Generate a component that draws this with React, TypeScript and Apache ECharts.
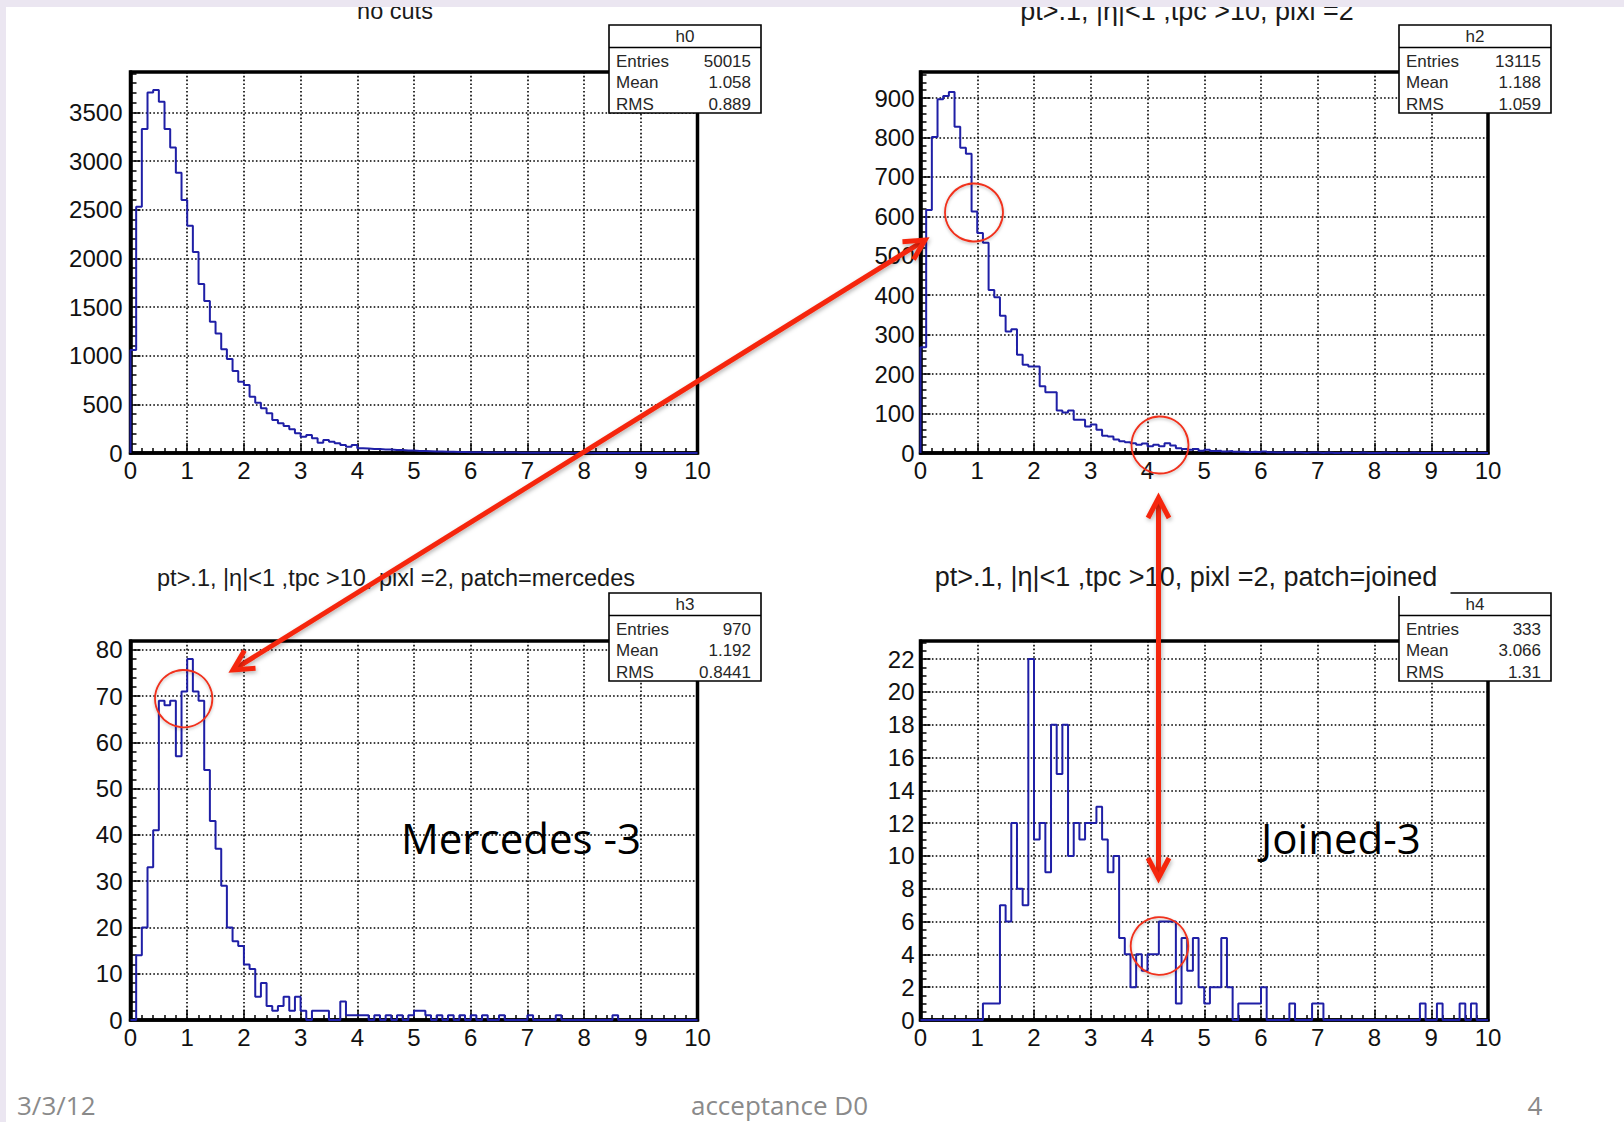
import React, { useEffect, useRef } from 'react';
import * as echarts from 'echarts';

// ---------- data (100 bins of width 0.1 between 0 and 10) ----------
const binWidth = 0.1;
const xTickLabels = ['0', '1', '2', '3', '4', '5', '6', '7', '8', '9', '10'];

const h0Counts = [
  1058, 2531, 3329, 3705, 3730, 3610, 3329, 3140, 2880, 2600,
  2336, 2065, 1736, 1562, 1349, 1229, 1065, 966, 842, 733,
  699, 579, 517, 459, 408, 339, 305, 277, 243, 202,
  168, 185, 151, 106, 134, 116, 99, 82, 65, 82,
  48, 45, 40, 40, 35, 35, 30, 30, 25, 25,
  20, 20, 18, 15, 15, 12, 12, 10, 10, 8,
  8, 7, 6, 6, 5, 5, 4, 4, 3, 3,
  3, 3, 2, 2, 2, 2, 1, 1, 1, 1,
  1, 1, 1, 0, 1, 0, 1, 0, 0, 1,
  0, 0, 1, 0, 0, 0, 0, 1, 0, 0,
];

const h2Counts = [
  268, 616, 801, 897, 905, 915, 827, 774, 759, 612,
  558, 533, 413, 395, 348, 308, 314, 249, 224, 219,
  219, 169, 154, 154, 108, 103, 108, 84, 84, 67,
  72, 59, 44, 42, 34, 30, 27, 25, 21, 24,
  17, 21, 17, 25, 19, 12, 10, 8, 10, 6,
  8, 5, 6, 4, 5, 3, 3, 2, 3, 2,
  4, 2, 1, 1, 2, 1, 1, 0, 1, 1,
  0, 1, 0, 0, 1, 0, 0, 1, 0, 0,
  0, 1, 0, 0, 0, 0, 1, 0, 0, 0,
  0, 0, 0, 1, 0, 0, 0, 0, 0, 0,
];

const h3Counts = [
  0, 14, 20, 33, 41, 69, 68, 69, 57, 71,
  78, 71, 69, 54, 43, 37, 29, 20, 17, 16,
  12, 11, 5, 8, 3, 2, 3, 5, 2, 5,
  2, 0, 2, 2, 2, 0, 0, 4, 1, 1,
  1, 1, 0, 1, 0, 1, 0, 1, 0, 1,
  2, 2, 1, 0, 1, 0, 1, 0, 1, 0,
  1, 0, 1, 0, 0, 1, 0, 0, 0, 0,
  1, 0, 0, 0, 0, 1, 0, 0, 0, 0,
  0, 0, 0, 0, 0, 1, 0, 0, 0, 0,
  0, 0, 0, 0, 0, 0, 0, 0, 0, 0,
];

const h4Counts = [
  0, 0, 0, 0, 0, 0, 0, 0, 0, 0,
  0, 1, 1, 1, 7, 6, 12, 8, 7, 22,
  11, 12, 9, 18, 15, 18, 10, 12, 11, 12,
  12, 13, 11, 9, 10, 5, 4, 2, 4, 3,
  4, 4, 6, 6, 6, 1, 5, 3, 5, 2,
  1, 2, 2, 5, 2, 0, 1, 1, 1, 1,
  2, 0, 0, 0, 0, 1, 0, 0, 0, 1,
  1, 0, 0, 0, 0, 0, 0, 0, 0, 0,
  0, 0, 0, 0, 0, 0, 0, 0, 1, 0,
  0, 1, 0, 0, 0, 1, 0, 1, 0, 0,
];

const titles = [
  'no cuts',
  'pt>.1, |η|<1 ,tpc >10, pixl =2',
  'pt>.1, |η|<1 ,tpc >10, pixl =2, patch=mercedes',
  'pt>.1, |η|<1 ,tpc >10, pixl =2, patch=joined',
];
const statNames = ['h0', 'h2', 'h3', 'h4'];
const statEntries = ['50015', '13115', '970', '333'];
const statMeans = ['1.058', '1.188', '1.192', '3.066'];
const statRms = ['0.889', '1.059', '0.8441', '1.31'];
const statLabels = ['Entries', 'Mean', 'RMS'];
const yMaxima = [3915, 966, 81.9, 23.1];
const ySteps = [500, 100, 10, 2];
const yMinorSplits = [5, 5, 5, 4];
const annotations = ['Mercedes -3', 'Joined-3'];
const footer = ['3/3/12', 'acceptance D0', '4'];

// ---------- layout ----------
const layouts = [
  { left: 130.5, top: 72, width: 567, height: 381 },
  { left: 920.5, top: 72, width: 567.5, height: 381 },
  { left: 130.5, top: 641, width: 567, height: 379 },
  { left: 920.5, top: 641, width: 567.5, height: 379 },
];
const statBoxes = [
  { x: 609, y: 25 },
  { x: 1399, y: 25 },
  { x: 609, y: 593 },
  { x: 1399, y: 593 },
];
const titlePos = [
  { x: 395, y: 11, size: 23.5 },
  { x: 1187, y: 11, size: 27 },
  { x: 396, y: 578, size: 23.5 },
  { x: 1186, y: 577, size: 27 },
];

const HIST_BLUE = '#1f1fa6';
const RED = '#f5270c';
const LABEL_FONT = 'Liberation Sans';

function histPoints(counts: number[]): number[][] {
  const pts: number[][] = [[0, 0]];
  counts.forEach((c, i) => pts.push([+(i * binWidth).toFixed(2), c]));
  pts.push([10, counts[counts.length - 1]]);
  pts.push([10, 0]);
  return pts;
}

function arrowElements(x1: number, y1: number, x2: number, y2: number) {
  const dx = x2 - x1;
  const dy = y2 - y1;
  const len = Math.sqrt(dx * dx + dy * dy);
  const ux = dx / len;
  const uy = dy / len;
  const nx = -uy;
  const ny = ux;
  const back = 20;
  const side = 10.5;
  const shadow = { shadowBlur: 4, shadowColor: 'rgba(0,0,0,0.3)', shadowOffsetX: 1, shadowOffsetY: 2 };
  const head = (tx: number, ty: number, dirx: number, diry: number) => ({
    type: 'polyline',
    z: 120,
    shape: {
      points: [
        [tx - back * dirx + side * nx, ty - back * diry + side * ny],
        [tx, ty],
        [tx - back * dirx - side * nx, ty - back * diry - side * ny],
      ],
    },
    style: { stroke: RED, lineWidth: 5, fill: 'none', lineJoin: 'miter', lineCap: 'butt', ...shadow },
  });
  const straight = Math.abs(dx) < 1 || Math.abs(dy) < 1;
  const shaft = straight
    ? {
        type: 'rect',
        z: 120,
        shape: {
          x: Math.min(x1, x2) - 2.5 + (Math.abs(dx) < 1 ? 0 : 3),
          y: Math.min(y1, y2) + 3,
          width: Math.abs(dx) < 1 ? 5 : Math.abs(dx) - 6,
          height: Math.abs(dx) < 1 ? Math.abs(dy) - 6 : 5,
        },
        style: { fill: RED, ...shadow },
      }
    : {
        type: 'line',
        z: 120,
        shape: { x1: x1 + ux * 3, y1: y1 + uy * 3, x2: x2 - ux * 3, y2: y2 - uy * 3 },
        style: { stroke: RED, lineWidth: 5, ...shadow },
      };
  return [shaft, head(x2, y2, ux, uy), head(x1, y1, -ux, -uy)];
}

function statBox(i: number) {
  const { x, y } = statBoxes[i];
  const w = 152;
  const h = 88;
  const font = { fontSize: 17, fontFamily: LABEL_FONT, fill: '#262626' };
  const values = [statEntries[i], statMeans[i], statRms[i]];
  const rowsY = [y + 36, y + 57.5, y + 79];
  const els: any[] = [
    { type: 'rect', z: 60, shape: { x, y, width: w, height: h }, style: { fill: '#fff', stroke: '#000', lineWidth: 1.6 } },
    { type: 'line', z: 61, shape: { x1: x, y1: y + 22.5, x2: x + w, y2: y + 22.5 }, style: { stroke: '#000', lineWidth: 1.4 } },
    { type: 'text', z: 62, x: x + w / 2, y: y + 11.5, style: { text: statNames[i], align: 'center', verticalAlign: 'middle', ...font } },
  ];
  statLabels.forEach((lab, k) => {
    els.push({ type: 'text', z: 62, x: x + 7, y: rowsY[k], style: { text: lab, align: 'left', verticalAlign: 'middle', ...font } });
    els.push({ type: 'text', z: 62, x: x + w - 10, y: rowsY[k], style: { text: values[k], align: 'right', verticalAlign: 'middle', ...font } });
  });
  return els;
}

function buildOption() {
  const countsList = [h0Counts, h2Counts, h3Counts, h4Counts];
  const tickLine = { color: '#000', width: 1.5 };
  const gridLine = { color: '#000', width: 1.6, type: [1.6, 2.2] };
  const grid = layouts.map((g) => ({
    ...g,
    show: true,
    borderColor: '#000',
    borderWidth: 3.5,
    backgroundColor: 'transparent',
    containLabel: false,
    outerBoundsMode: 'none',
  }));
  const xAxis = layouts.map((_, i) => ({
    type: 'value',
    gridIndex: i,
    min: 0,
    max: 10,
    interval: 1,
    axisLine: { show: true, onZero: false, lineStyle: { color: '#000', width: 3.5 } },
    axisTick: { show: true, inside: true, length: 10, lineStyle: tickLine },
    minorTick: { show: true, splitNumber: 5, length: 5, lineStyle: tickLine },
    axisLabel: {
      show: true,
      margin: 5,
      color: '#111',
      fontSize: 24,
      fontFamily: LABEL_FONT,
      formatter: (v: number) => xTickLabels[Math.round(v)] ?? '',
    },
    splitLine: { show: true, lineStyle: gridLine },
    minorSplitLine: { show: false },
  }));
  const yAxis = layouts.map((_, i) => ({
    type: 'value',
    gridIndex: i,
    min: 0,
    max: yMaxima[i],
    interval: ySteps[i],
    axisLine: { show: true, onZero: false, lineStyle: { color: '#000', width: 3.5 } },
    axisTick: { show: true, inside: true, length: 10, lineStyle: tickLine },
    minorTick: { show: true, splitNumber: yMinorSplits[i], length: 6, lineStyle: tickLine },
    axisLabel: {
      show: true,
      margin: i % 2 === 0 ? 8 : 6,
      color: '#111',
      fontSize: 24,
      fontFamily: LABEL_FONT,
      formatter: (v: number) => (Math.abs(v / ySteps[i] - Math.round(v / ySteps[i])) < 1e-6 ? String(Math.round(v)) : ''),
    },
    splitLine: { show: true, lineStyle: gridLine },
    minorSplitLine: { show: false },
  }));
  const series = countsList.map((counts, i) => ({
    type: 'line',
    xAxisIndex: i,
    yAxisIndex: i,
    data: histPoints(counts),
    step: 'end',
    symbol: 'none',
    showSymbol: false,
    clip: false,
    silent: true,
    z: 3,
    lineStyle: { color: HIST_BLUE, width: 2 },
  }));

  const graphics: any[] = [];
  titles.forEach((t, i) => {
    graphics.push({
      type: 'text',
      z: 40,
      x: titlePos[i].x,
      y: titlePos[i].y,
      style: { text: t, fontSize: titlePos[i].size, fontFamily: LABEL_FONT, fill: '#1a1a1a', align: 'center', verticalAlign: 'middle' },
    });
  });
  for (let i = 0; i < 4; i++) graphics.push(...statBox(i));
  graphics.push({ type: 'rect', z: 63, shape: { x: 1397.5, y: 590, width: 53, height: 6 }, style: { fill: '#fff' } });

  graphics.push({
    type: 'text', z: 80, x: 401, y: 837,
    style: { text: annotations[0], fontSize: 42, fontFamily: 'Open Sans', fill: '#000', align: 'left', verticalAlign: 'middle' },
  });
  graphics.push({
    type: 'text', z: 80, x: 1261, y: 837,
    style: { text: annotations[1], fontSize: 42, fontFamily: 'Open Sans', fill: '#000', align: 'left', verticalAlign: 'middle' },
  });

  const circleStyle = { fill: 'none', stroke: '#f0301c', lineWidth: 1.8, shadowBlur: 3, shadowColor: 'rgba(0,0,0,0.25)', shadowOffsetY: 1.5 };
  [
    { cx: 974, cy: 212.5, r: 29 },
    { cx: 1160, cy: 445, r: 28.5 },
    { cx: 183.7, cy: 698.7, r: 28.7 },
    { cx: 1159.5, cy: 946, r: 28.8 },
  ].forEach((c) => graphics.push({ type: 'circle', z: 110, shape: c, style: circleStyle }));

  graphics.push(...arrowElements(233, 670, 925, 240));
  graphics.push(...arrowElements(1158.5, 498, 1158.5, 878));

  const footFont = { fontSize: 26, fontFamily: 'Open Sans', fill: '#8a8a8a', verticalAlign: 'middle' };
  graphics.push({ type: 'text', z: 80, x: 17, y: 1105, style: { text: footer[0], align: 'left', ...footFont } });
  graphics.push({ type: 'text', z: 80, x: 779.5, y: 1105, style: { text: footer[1], align: 'center', ...footFont } });
  graphics.push({ type: 'text', z: 80, x: 1535, y: 1105, style: { text: footer[2], align: 'center', ...footFont } });

  graphics.push({ type: 'rect', z: 200, shape: { x: 0, y: 0, width: 1624, height: 7 }, style: { fill: '#ebe6f1' } });
  graphics.push({ type: 'rect', z: 200, shape: { x: 0, y: 0, width: 6, height: 1122 }, style: { fill: '#ebe6f1' } });

  return {
    animation: false,
    backgroundColor: '#ffffff',
    grid,
    xAxis,
    yAxis,
    series,
    graphic: { elements: graphics },
  };
}

export default function App() {
  const ref = useRef<HTMLDivElement>(null);
  useEffect(() => {
    document.body.style.margin = '0';
    const chart = echarts.init(ref.current as HTMLDivElement, undefined, { renderer: 'svg' });
    chart.setOption(buildOption() as any);
    return () => chart.dispose();
  }, []);
  return <div ref={ref} style={{ width: 1624, height: 1122, background: '#fff' }} />;
}
